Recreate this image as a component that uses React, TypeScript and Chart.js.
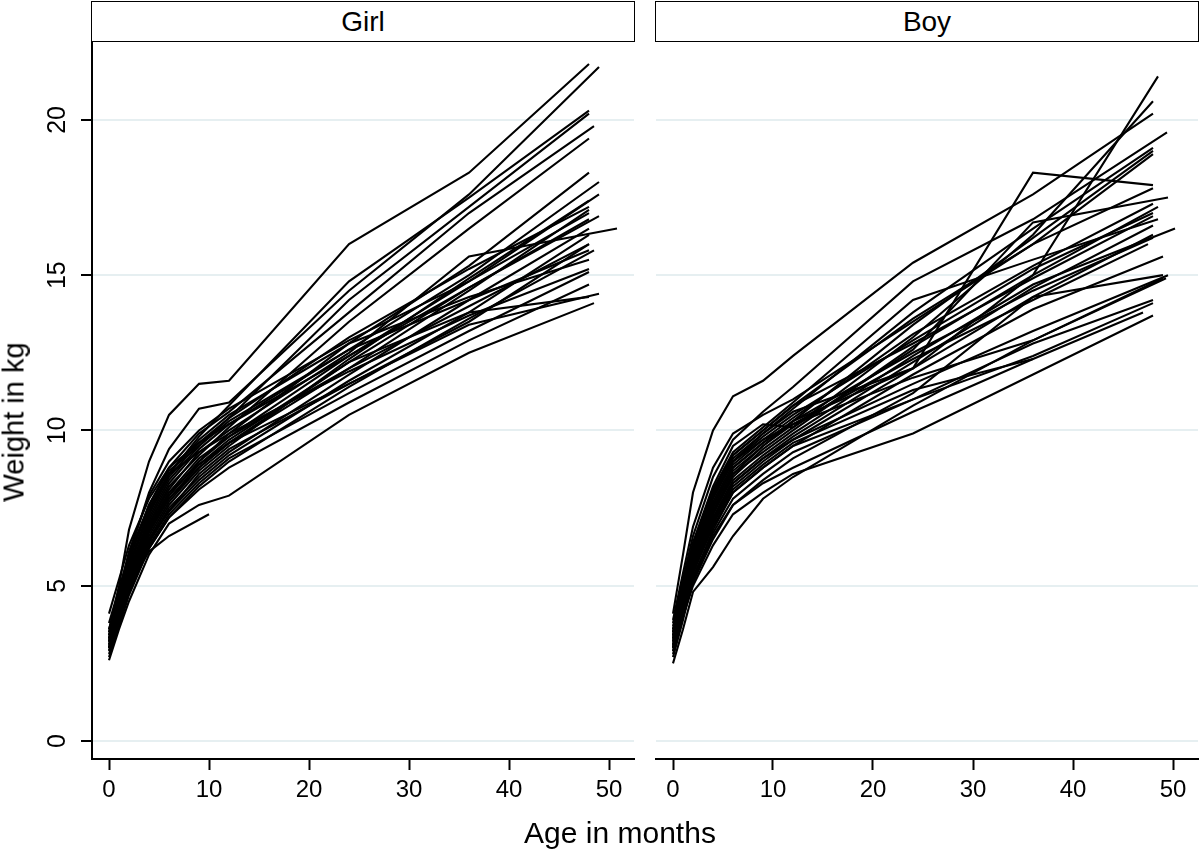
import React, { useEffect, useRef } from "react";
import Chart from "chart.js/auto";

// visit schedule (months); the last visit of each child comes from *LastAge
const visitAges = [0, 1, 2, 4, 6, 9, 12, 24, 36, 48];

const girlWeights: number[][] = [
    [3.5, 5.0, 6.8, 9.0, 10.5, 11.5, 11.6, 16.0, 18.3, 21.8],
    [3.3, 4.6, 6.0, 8.0, 9.4, 10.7, 10.9, 14.5, 17.6, 21.7],
    [3.4, 4.5, 5.6, 7.4, 8.6, 9.8, 10.8, 14.8, 17.5, 20.3],
    [3.2, 4.3, 5.4, 7.2, 8.4, 9.5, 10.4, 14.2, 17.2, 20.2],
    [3.6, 4.7, 5.8, 7.6, 8.8, 9.9, 10.6, 13.8, 17.0, 19.8],
    [3.1, 4.2, 5.3, 7.0, 8.2, 9.2, 10.1, 13.5, 16.5, 19.4],
    [3.0, 4.1, 5.1, 6.8, 7.9, 9.0, 9.9, 12.8, 15.3, 18.3],
    [3.3, 4.4, 5.5, 7.1, 8.3, 9.4, 10.2, 12.6, 15.0, 18.0],
    [3.2, 4.2, 5.2, 6.9, 8.0, 9.1, 9.8, 12.4, 14.8, 17.6],
    [2.9, 3.9, 4.9, 6.5, 7.6, 8.7, 9.5, 12.3, 14.9, 17.4],
    [3.4, 4.5, 5.6, 7.3, 8.5, 9.6, 10.4, 13.0, 15.2, 17.2],
    [3.0, 4.0, 5.0, 6.6, 7.7, 8.8, 9.6, 12.0, 14.5, 17.1],
    [3.1, 4.1, 5.1, 6.7, 7.8, 8.9, 9.7, 12.2, 14.6, 16.9],
    [3.3, 4.3, 5.3, 7.0, 8.1, 9.3, 10.0, 12.5, 15.6, 16.5],
    [2.8, 3.8, 4.8, 6.4, 7.5, 8.5, 9.3, 11.8, 14.2, 16.5],
    [3.0, 4.0, 5.0, 6.5, 7.4, 8.4, 9.2, 11.6, 13.8, 16.3],
    [3.2, 4.2, 5.2, 6.8, 7.9, 9.0, 9.8, 12.0, 14.0, 16.0],
    [2.7, 3.7, 4.7, 6.2, 7.2, 8.2, 9.0, 11.4, 13.6, 15.8],
    [3.5, 4.6, 5.7, 7.4, 8.6, 9.7, 10.5, 12.8, 14.3, 15.5],
    [3.0, 4.0, 4.9, 6.3, 7.3, 8.3, 9.1, 11.2, 13.2, 15.1],
    [2.9, 3.9, 4.8, 6.2, 7.2, 8.1, 8.8, 10.9, 12.9, 14.7],
    [3.1, 4.0, 4.9, 6.4, 7.4, 8.6, 9.4, 11.5, 13.4, 14.4],
    [3.3, 4.3, 5.2, 6.8, 7.8, 8.8, 9.6, 12.2, 13.8, 14.3],
    [2.6, 3.6, 4.5, 6.0, 7.0, 7.6, 7.9, 10.5, 12.5, 14.1],
    [3.0, 4.0, 5.0, 6.1, 6.6, 7.3],
    [4.1, 5.2, 6.3, 7.8, 8.8, 9.6, 10.2, 12.4, 14.6, 16.8],
    [3.8, 4.9, 6.0, 7.6, 8.7, 9.5, 10.3, 12.6, 14.2, 15.8],
    [3.4, 4.4, 5.4, 6.9, 8.0, 8.9, 9.6, 11.5, 13.5, 16.0],
    [3.2, 4.6, 5.9, 7.5, 8.6, 9.3, 9.9, 11.9, 13.7, 15.2],
    [3.6, 4.8, 6.1, 7.9, 9.0, 10.0, 10.7, 12.9, 14.8, 17.0],
];
const girlLastAge = [
    48, 49, 48, 48, 48.5, 48, 48, 49, 49, 48,
    48, 48, 49, 50.8, 48, 48, 48, 48.5, 48, 48,
    48, 49, 48, 48.5, 10, 48, 48, 48, 48, 48,
];

const boyWeights: number[][] = [
    [4.1, 6.0, 8.0, 10.0, 11.1, 11.6, 12.4, 15.4, 17.6, 20.2],
    [3.6, 5.0, 6.4, 8.2, 9.5, 10.2, 10.1, 13.0, 16.3, 20.6],
    [3.3, 4.6, 5.8, 7.6, 8.8, 9.6, 10.3, 12.0, 15.0, 21.4],
    [3.5, 4.8, 6.1, 7.9, 9.1, 9.9, 10.6, 12.0, 18.3, 17.9],
    [3.8, 5.2, 6.6, 8.5, 9.7, 10.6, 11.4, 14.8, 16.8, 19.6],
    [3.4, 4.7, 6.0, 7.8, 9.0, 9.9, 10.7, 13.8, 16.5, 19.1],
    [3.2, 4.5, 5.8, 7.5, 8.7, 9.5, 10.3, 13.4, 16.2, 19.0],
    [3.6, 4.9, 6.2, 8.0, 9.2, 10.0, 10.8, 13.6, 16.0, 18.9],
    [3.0, 4.3, 5.6, 7.3, 8.5, 9.4, 10.1, 12.6, 16.7, 17.5],
    [3.3, 4.6, 5.9, 7.7, 8.9, 9.7, 10.4, 13.1, 15.3, 17.3],
    [3.1, 4.4, 5.7, 7.4, 8.6, 9.3, 10.0, 12.7, 15.0, 17.2],
    [3.5, 4.8, 6.1, 7.9, 9.0, 9.8, 10.5, 12.9, 15.2, 17.0],
    [3.7, 5.0, 6.3, 8.1, 9.3, 10.1, 10.9, 14.2, 15.5, 16.8],
    [2.9, 4.2, 5.5, 7.1, 8.3, 9.1, 9.8, 12.2, 14.6, 16.6],
    [3.2, 4.4, 5.6, 7.2, 8.4, 9.2, 9.9, 12.4, 14.7, 16.5],
    [3.0, 4.3, 5.5, 7.0, 8.2, 9.0, 9.7, 12.0, 14.3, 16.3],
    [3.4, 4.6, 5.8, 7.4, 8.6, 9.5, 10.2, 12.3, 14.2, 16.0],
    [3.1, 4.3, 5.4, 6.9, 8.0, 8.8, 9.5, 11.8, 13.9, 15.6],
    [3.3, 4.5, 5.6, 7.1, 8.3, 9.1, 9.7, 11.5, 13.2, 15.0],
    [2.8, 4.0, 5.1, 6.5, 7.6, 8.4, 9.1, 11.2, 14.3, 15.0],
    [3.0, 4.2, 5.3, 6.7, 7.8, 8.6, 9.3, 11.0, 12.8, 14.2],
    [2.9, 4.0, 5.0, 6.3, 7.3, 8.0, 8.6, 9.9, 11.8, 13.7],
    [3.1, 4.1, 5.2, 6.6, 7.6, 8.3, 8.8, 10.6, 12.3, 13.8],
    [3.2, 4.4, 5.5, 7.0, 8.1, 8.9, 9.6, 11.3, 12.3],
    [2.5, 3.6, 4.8, 5.6, 6.6, 7.8, 8.5, 10.8, 12.9, 14.9],
    [3.9, 5.4, 6.9, 8.8, 9.9, 10.5, 11.0, 13.5, 16.0, 17.8],
    [3.5, 4.9, 6.3, 8.0, 9.2, 10.0, 10.8, 12.8, 14.9, 16.9],
    [3.0, 4.4, 5.8, 7.6, 8.8, 9.6, 10.3, 12.5, 14.5, 16.2],
    [3.4, 4.8, 6.2, 7.9, 9.0, 9.7, 10.2, 11.7, 12.9, 14.9],
    [2.7, 3.9, 5.2, 6.8, 8.0, 8.8, 9.5, 11.0, 12.4, 14.1],
];
const boyLastAge = [
    48, 48, 48.5, 48, 49.4, 48, 48, 48, 49.5, 48,
    48.5, 48, 48.5, 48, 50.2, 48, 47.5, 49, 49.5, 49,
    48, 48, 47, 36, 49, 48, 48, 48, 49.3, 48,
];

const xTicks = [0, 10, 20, 30, 40, 50];
const yTicks = [0, 5, 10, 15, 20];

const FONT = "'Liberation Sans', Arial, Helvetica, sans-serif";
const GRID = "#e6eff1";

interface PanelProps {
    weights: number[][];
    lastAges: number[];
    showY: boolean;
    left: number;
    width: number;
}

const Panel = (props: PanelProps) => {
    const canvasRef = useRef<HTMLCanvasElement | null>(null);

    useEffect(() => {
        const ctx = canvasRef.current?.getContext("2d");
        if (!ctx) return;

        const datasets = props.weights.map((row, i) => ({
            data: row.map((w, j) => ({
                x: j === row.length - 1 ? props.lastAges[i] : visitAges[j],
                y: w,
            })),
            borderColor: "#000",
            borderWidth: 2.1,
            pointRadius: 0,
            tension: 0,
            fill: false,
        }));

        const chart = new Chart(ctx, {
            type: "line",
            data: { datasets },
            options: {
                responsive: false,
                animation: false,
                events: [],
                layout: {
                    padding: { top: 41, left: 0, bottom: 0, right: props.showY ? 6 : 2 },
                },
                plugins: { legend: { display: false }, tooltip: { enabled: false } },
                scales: {
                    x: {
                        type: "linear",
                        min: -1.7,
                        max: 52.5,
                        afterFit: (s: any) => { s.height = 92; },
                        afterBuildTicks: (s: any) => { s.ticks = xTicks.map((v) => ({ value: v })); },
                        border: { display: true, color: "#000", width: 2 },
                        grid: {
                            drawOnChartArea: false,
                            drawTicks: true,
                            tickLength: 11,
                            tickWidth: 2,
                            tickColor: "#000",
                        },
                        ticks: {
                            color: "#000",
                            font: { family: FONT, size: 24 },
                            padding: 6,
                            maxRotation: 0,
                            autoSkip: false,
                        },
                    },
                    y: {
                        min: -0.58,
                        max: 22.54,
                        afterFit: (s: any) => { s.width = props.showY ? 92 : 6; },
                        afterBuildTicks: (s: any) => { s.ticks = yTicks.map((v) => ({ value: v })); },
                        border: { display: props.showY, color: "#000", width: 2 },
                        grid: {
                            color: GRID,
                            lineWidth: 2,
                            drawTicks: props.showY,
                            tickLength: 11,
                            tickWidth: 2,
                            tickColor: "#000",
                        },
                        ticks: {
                            display: props.showY,
                            color: "#000",
                            font: { family: FONT, size: 25 },
                            minRotation: 90,
                            maxRotation: 90,
                            crossAlign: "center",
                            padding: 9,
                            autoSkip: false,
                        },
                    },
                },
            },
        });

        return () => {
            chart.destroy();
        };
    }, []);

    return (
        <canvas
            ref={canvasRef}
            width={props.width}
            height={851}
            style={{ position: "absolute", left: props.left, top: 0 }}
        />
    );
};

const stripStyle = (left: number, width: number): React.CSSProperties => ({
    position: "absolute",
    left,
    top: 1,
    width,
    height: 41,
    boxSizing: "border-box",
    border: "1.5px solid #000",
    background: "#fff",
    display: "flex",
    alignItems: "center",
    justifyContent: "center",
    fontFamily: FONT,
    fontSize: 28,
    color: "#000",
});

const App = () => {
    return (
        <div
            style={{
                position: "absolute",
                left: 0,
                top: 0,
                width: 1200,
                height: 851,
                background: "#fff",
                overflow: "hidden",
            }}
        >
            <Panel weights={girlWeights} lastAges={girlLastAge} showY={true} left={0} width={640} />
            <Panel weights={boyWeights} lastAges={boyLastAge} showY={false} left={650} width={550} />
            <div style={stripStyle(91, 544)}>Girl</div>
            <div style={stripStyle(655, 544)}>Boy</div>
            <div
                style={{
                    position: "absolute",
                    left: 14,
                    top: 422,
                    transform: "translate(-50%, -50%) rotate(-90deg)",
                    whiteSpace: "nowrap",
                    fontFamily: FONT,
                    fontSize: 29,
                    lineHeight: "29px",
                    color: "#000",
                }}
            >
                Weight in kg
            </div>
            <div
                style={{
                    position: "absolute",
                    left: 620,
                    top: 833,
                    transform: "translate(-50%, -50%)",
                    whiteSpace: "nowrap",
                    fontFamily: FONT,
                    fontSize: 30,
                    lineHeight: "30px",
                    color: "#000",
                }}
            >
                Age in months
            </div>
        </div>
    );
};

export default App;
